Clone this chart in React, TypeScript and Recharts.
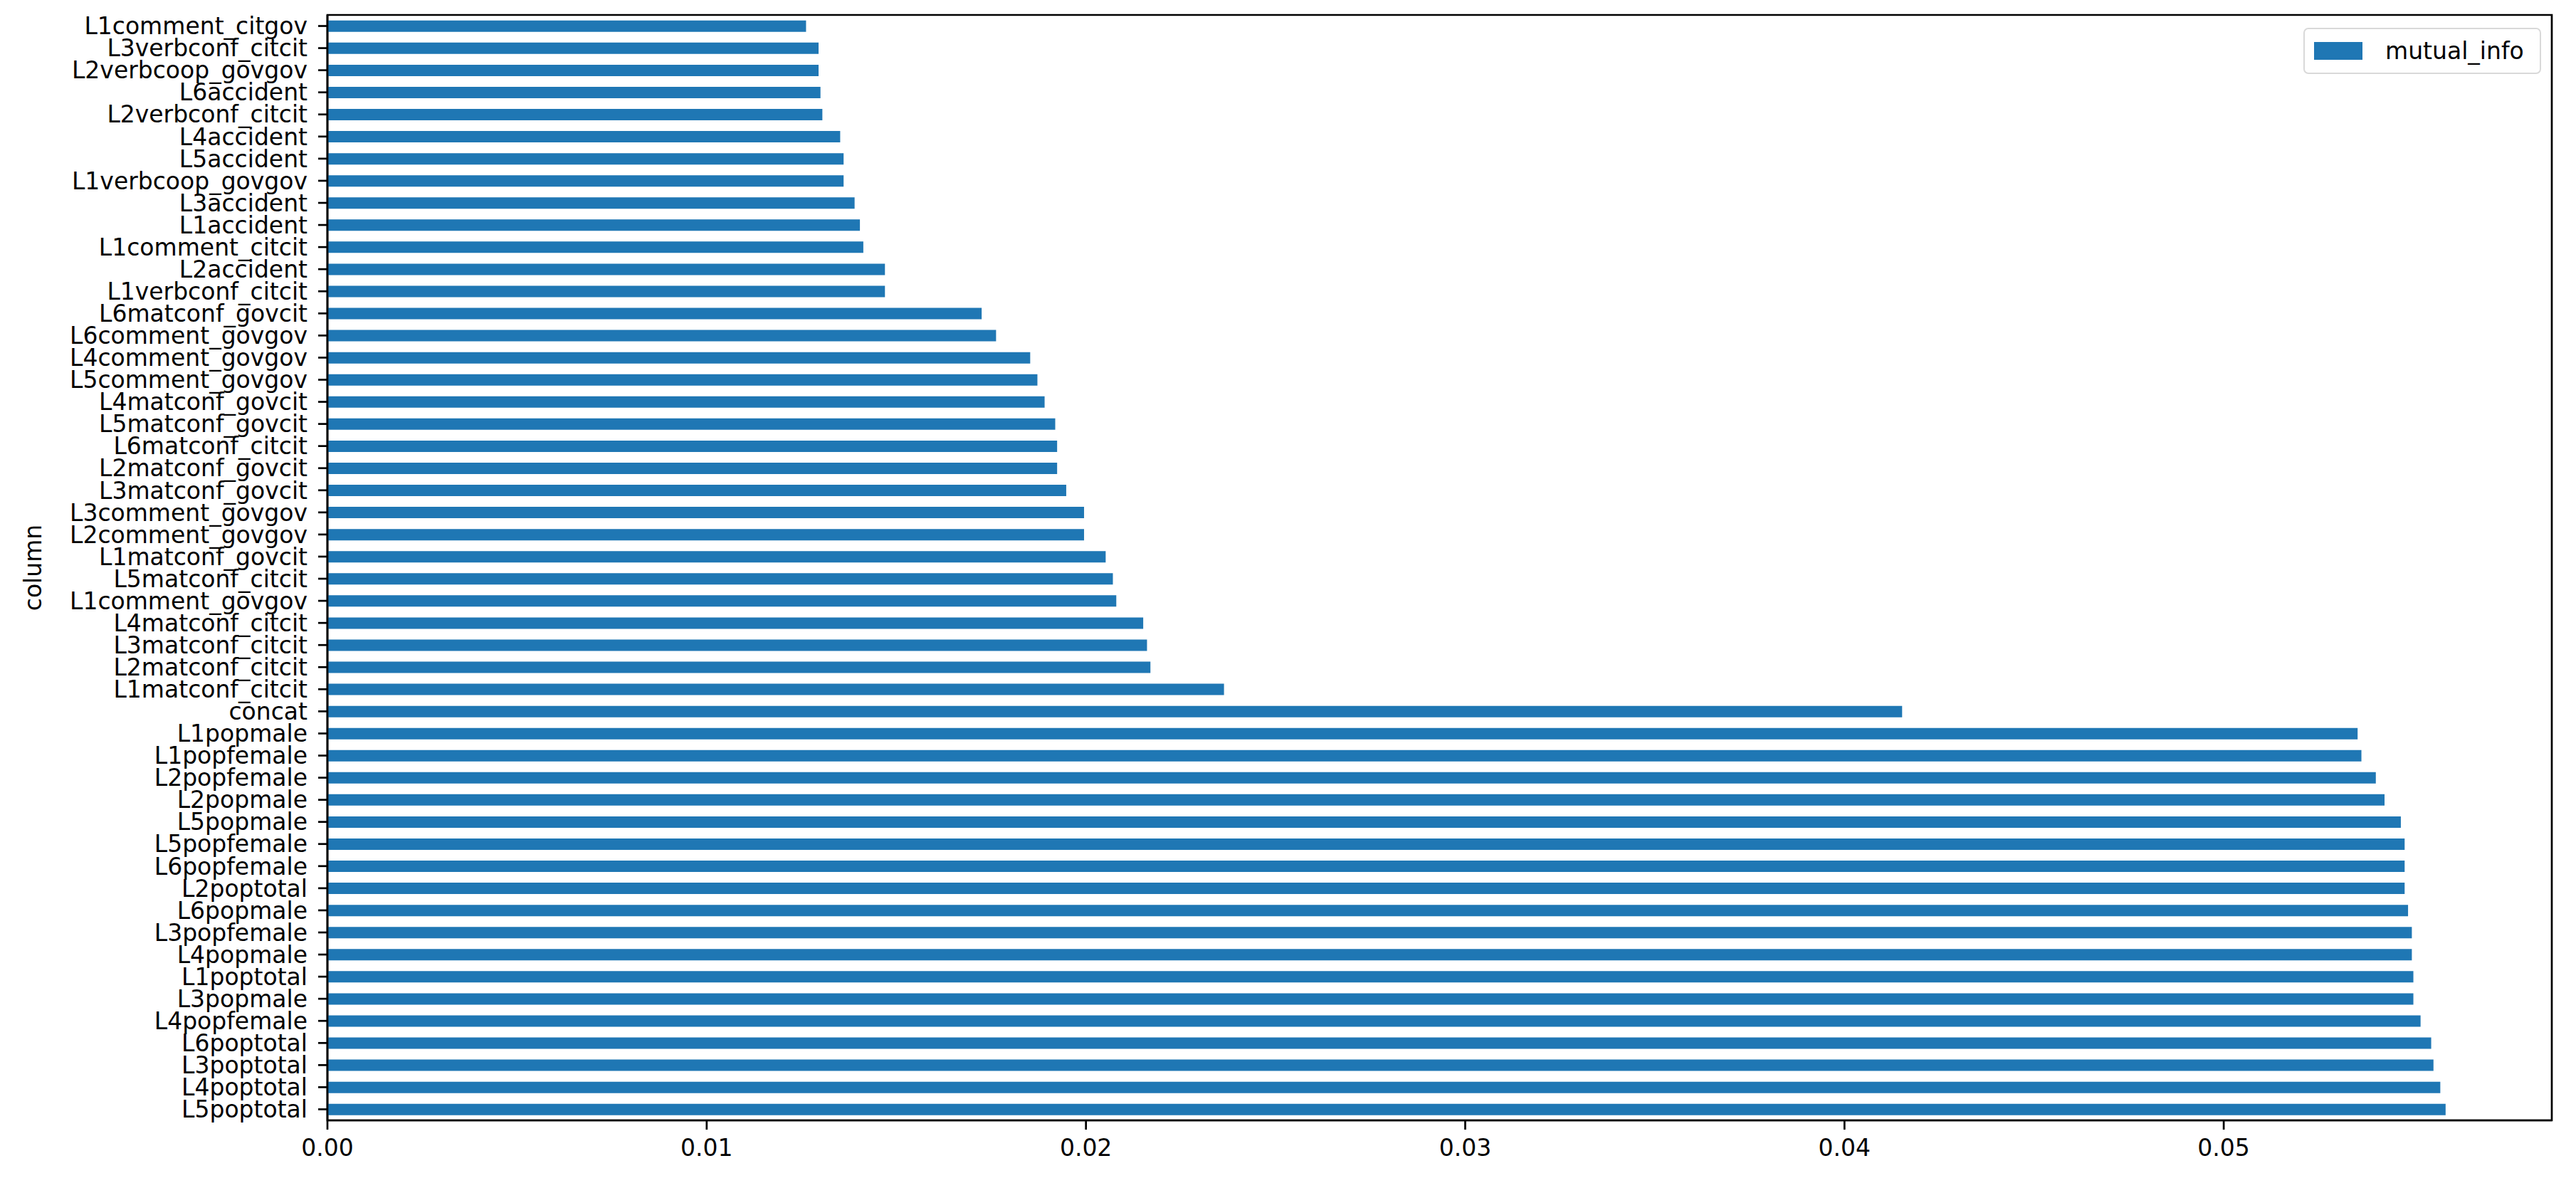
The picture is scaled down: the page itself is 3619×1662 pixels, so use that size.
import React from "react";
import {
    BarChart,
    Bar,
    XAxis,
    YAxis,
    Legend,
    Label,
    ReferenceArea
} from "recharts";

// top-to-bottom order as drawn
const columns = [
    "L1comment_citgov", "L3verbconf_citcit", "L2verbcoop_govgov", "L6accident", "L2verbconf_citcit",
    "L4accident", "L5accident", "L1verbcoop_govgov", "L3accident", "L1accident",
    "L1comment_citcit", "L2accident", "L1verbconf_citcit", "L6matconf_govcit", "L6comment_govgov",
    "L4comment_govgov", "L5comment_govgov", "L4matconf_govcit", "L5matconf_govcit", "L6matconf_citcit",
    "L2matconf_govcit", "L3matconf_govcit", "L3comment_govgov", "L2comment_govgov", "L1matconf_govcit",
    "L5matconf_citcit", "L1comment_govgov", "L4matconf_citcit", "L3matconf_citcit", "L2matconf_citcit",
    "L1matconf_citcit", "concat", "L1popmale", "L1popfemale", "L2popfemale",
    "L2popmale", "L5popmale", "L5popfemale", "L6popfemale", "L2poptotal",
    "L6popmale", "L3popfemale", "L4popmale", "L1poptotal", "L3popmale",
    "L4popfemale", "L6poptotal", "L3poptotal", "L4poptotal", "L5poptotal"
];

const mutualInfo = [
    0.01262, 0.01295, 0.01295, 0.01300, 0.01305,
    0.01352, 0.01361, 0.01361, 0.01390, 0.01404,
    0.01413, 0.01470, 0.01470, 0.01725, 0.01763,
    0.01853, 0.01872, 0.01891, 0.01919, 0.01924,
    0.01924, 0.01948, 0.01995, 0.01995, 0.02052,
    0.02071, 0.02080, 0.02151, 0.02161, 0.02170,
    0.02364, 0.04152, 0.05353, 0.05363, 0.05401,
    0.05424, 0.05467, 0.05477, 0.05477, 0.05477,
    0.05486, 0.05496, 0.05496, 0.05500, 0.05500,
    0.05519, 0.05547, 0.05553, 0.05571, 0.05585
];

const xTicks = [0, 0.01, 0.02, 0.03, 0.04, 0.05];
const xMax = 0.05865;

const data = columns.map((name, i) => ({ column: name, mutual_info: mutualInfo[i] }));

const font = "'DejaVu Sans', sans-serif";
const fontSize = 33;
const lineW = 2.7;

const LegendBox = () => (
    <div style={{
        boxSizing: "border-box",
        width: 334,
        height: 65,
        border: "2px solid #d9d9d9",
        borderRadius: 7,
        background: "#fff",
        display: "flex",
        alignItems: "center",
        paddingLeft: 13,
        fontFamily: font,
        fontSize: fontSize,
        color: "#000"
    }}>
        <div style={{ width: 68, height: 25, background: "#1f77b4", marginRight: 32 }} />
        <span>mutual_info</span>
    </div>
);

export default function App() {
    return (
        <div style={{ position: "absolute", left: 0, top: 0, background: "#fff" }}>
            <BarChart
                width={3619}
                height={1662}
                data={data}
                layout="vertical"
                barCategoryGap="25%"
                margin={{ top: 21, right: 34, left: 0, bottom: 0 }}
            >
                <XAxis
                    type="number"
                    domain={[0, xMax]}
                    ticks={xTicks}
                    allowDataOverflow
                    interval={0}
                    height={88}
                    tickFormatter={(v) => v.toFixed(2)}
                    tick={{ fill: "#000", fontSize: fontSize, fontFamily: font }}
                    tickSize={13}
                    tickMargin={14}
                    axisLine={{ stroke: "#000", strokeWidth: lineW }}
                    tickLine={{ stroke: "#000", strokeWidth: lineW }}
                />
                <YAxis
                    type="category"
                    dataKey="column"
                    width={460}
                    interval={0}
                    tick={{ fill: "#000", fontSize: fontSize, fontFamily: font }}
                    tickSize={13}
                    tickMargin={15}
                    axisLine={{ stroke: "#000", strokeWidth: lineW }}
                    tickLine={{ stroke: "#000", strokeWidth: lineW }}
                >
                    <Label
                        value="column"
                        angle={-90}
                        position="insideLeft"
                        offset={46}
                        style={{ textAnchor: "middle", fill: "#000", fontSize: fontSize, fontFamily: font }}
                    />
                </YAxis>
                <ReferenceArea
                    x1={0}
                    x2={xMax}
                    fill="none"
                    stroke="#000"
                    strokeWidth={lineW}
                    ifOverflow="visible"
                />
                <Legend
                    layout="vertical"
                    align="center"
                    verticalAlign="middle"
                    content={() => <LegendBox />}
                    wrapperStyle={{ left: 3236, top: 39, width: 334, height: 65 }}
                />
                <Bar dataKey="mutual_info" fill="#1f77b4" isAnimationActive={false} />
            </BarChart>
        </div>
    );
}
